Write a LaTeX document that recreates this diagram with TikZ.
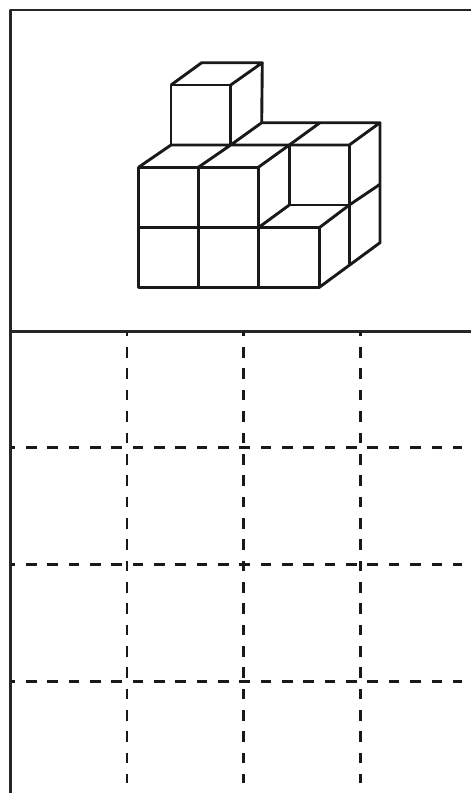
\documentclass[tikz,border=0pt]{standalone}
\tikzset{
  cubeline/.style={line width=2.9pt,color=black!90},
  frameline/.style={line width=2.9pt,color=black!85},
  gridline/.style={line width=2.9pt,color=black!90,dash pattern=on 10.67pt off 10.67pt}
}
\begin{document}
\begin{tikzpicture}[x=1pt,y=-1pt,line cap=butt,line join=round]
  \useasboundingbox (0,0) rectangle (471,793);
  % frame
  \coordinate (TL) at (10.5,10);
  \coordinate (TR) at (471,10);
  \coordinate (BL) at (10.5,793);
  \coordinate (ML) at (10.5,331.5);
  \coordinate (MR) at (471,331.5);
  \draw[frameline] (BL) -- (TL) -- (TR);
  \draw[frameline] (ML) -- (MR);
  % dashed grid
  \foreach \gx in {127,243.7,360.3}
    \draw[gridline,dash phase=5.7pt] (\gx,331.5) -- (\gx,782.7);
  \foreach \gy in {447.7,564.5,681.3}
    \draw[gridline,dash phase=5.8pt] (10.5,\gy) -- (461.7,\gy);
  % stack of cubes
  \coordinate (A1) at (138.5,287.3);
  \coordinate (A2) at (198.3,287.3);
  \coordinate (A3) at (258.3,287.3);
  \coordinate (A4) at (319.3,287.3);
  \coordinate (B1) at (138.5,227.7);
  \coordinate (B2) at (198.3,227.7);
  \coordinate (B3) at (258.3,227.7);
  \coordinate (B4) at (319.3,227.7);
  \coordinate (C1) at (138.5,167.3);
  \coordinate (C2) at (198.3,167.3);
  \coordinate (C3) at (258.3,167.3);
  \coordinate (D1) at (171,145);
  \coordinate (D2) at (230.7,145);
  \coordinate (D3) at (289.3,145);
  \coordinate (D4) at (349.3,145);
  \coordinate (E1) at (261.7,122.7);
  \coordinate (E2) at (320,122.7);
  \coordinate (E3) at (380,122.7);
  \coordinate (F1) at (171,85);
  \coordinate (F2) at (230.7,85);
  \coordinate (G1) at (201.7,62.7);
  \coordinate (G2) at (262.3,62.7);
  \coordinate (H1) at (289.3,205);
  \coordinate (H2) at (349.3,205);
  \coordinate (H3) at (380,184.3);
  \coordinate (J1) at (349.3,265);
  \coordinate (J2) at (380,242.7);
  % left block
  \draw[cubeline] (A1) -- (A4) -- (B4) -- (B1) -- cycle;
  \draw[cubeline] (A1) -- (C1) -- (C3) -- (A3);
  \draw[cubeline] (A2) -- (C2);
  % tops of the left block
  \draw[cubeline] (C1) -- (D1) -- (D4) -- (E3) -- (E1) -- (D2) -- (C2);
  \draw[cubeline] (C3) -- (D3) -- (E2);
  % upper cube
  \draw[cubeline] (D1) -- (F1) -- (F2) -- (D2);
  \draw[cubeline] (F1) -- (G1) -- (G2) -- (F2);
  \draw[cubeline] (G2) -- (E1);
  % right block
  \draw[cubeline] (D3) -- (H1) -- (H2) -- (D4);
  \draw[cubeline] (B3) -- (H1);
  \draw[cubeline] (B4) -- (H2) -- (H3);
  \draw[cubeline] (E3) -- (J2) -- (A4);
  \draw[cubeline] (H2) -- (J1);
\end{tikzpicture}
\end{document}
